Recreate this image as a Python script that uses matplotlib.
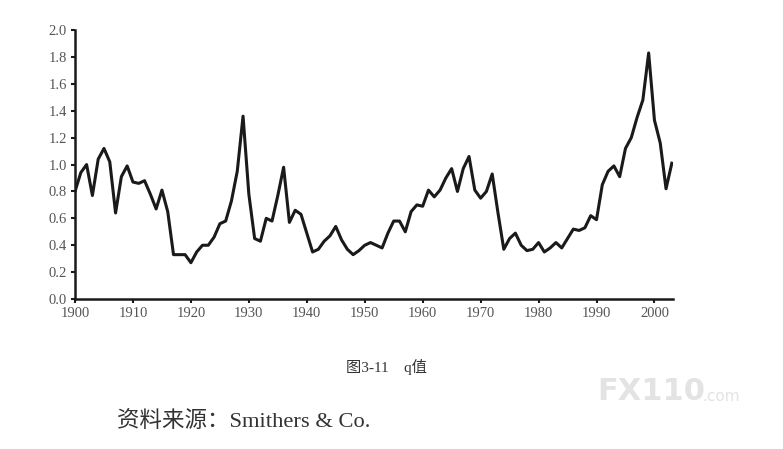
import numpy as np
import matplotlib.pyplot as plt

# q ratio
years = list(range(1900, 2004))
q_values = [
    0.80, 0.94, 1.00, 0.77, 1.04, 1.12, 1.02, 0.64, 0.91, 0.99,  # 1900s
    0.87, 0.86, 0.88, 0.78, 0.67, 0.81, 0.65, 0.33, 0.33, 0.33,  # 1910s
    0.27, 0.35, 0.40, 0.40, 0.46, 0.56, 0.58, 0.73, 0.95, 1.36,  # 1920s
    0.78, 0.45, 0.43, 0.60, 0.58, 0.77, 0.98, 0.57, 0.66, 0.63,  # 1930s
    0.49, 0.35, 0.37, 0.43, 0.47, 0.54, 0.44, 0.37, 0.33, 0.36,  # 1940s
    0.40, 0.42, 0.40, 0.38, 0.49, 0.58, 0.58, 0.50, 0.65, 0.70,  # 1950s
    0.69, 0.81, 0.76, 0.81, 0.90, 0.97, 0.80, 0.97, 1.06, 0.81,  # 1960s
    0.75, 0.80, 0.93, 0.64, 0.37, 0.45, 0.49, 0.40, 0.36, 0.37,  # 1970s
    0.42, 0.35, 0.38, 0.42, 0.38, 0.45, 0.52, 0.51, 0.53, 0.62,  # 1980s
    0.59, 0.85, 0.95, 0.99, 0.91, 1.12, 1.20, 1.35, 1.48, 1.83,  # 1990s
    1.33, 1.16, 0.82, 1.01,                                      # 2000s
]
x_ticks = list(range(1900, 2001, 10))
y_ticks = [0.0, 0.2, 0.4, 0.6, 0.8, 1.0, 1.2, 1.4, 1.6, 1.8, 2.0]

caption = "图3-11    q值"
source = "资料来源：Smithers & Co."

fonts = ['Liberation Serif', 'Noto Sans CJK SC']

fig = plt.figure(figsize=(7.83, 4.49), dpi=100)
ax = fig.add_axes([0.0958, 0.334, 0.7637, 0.599])

ax.plot(years, q_values, color='#1a1a1a', linewidth=2.2)

ax.set_xlim(1900, 2003.2)
ax.set_ylim(0, 2.0)
ax.set_xticks(x_ticks)
ax.set_yticks(y_ticks)
ax.set_yticklabels([f'{v:.1f}' for v in y_ticks])

for side in ['top', 'right']:
    ax.spines[side].set_visible(False)
for side in ['left', 'bottom']:
    ax.spines[side].set_linewidth(1.8)
    ax.spines[side].set_color('#1a1a1a')

ax.tick_params(direction='out', length=3, width=1.5, color='#1a1a1a',
               labelsize=10.5, labelcolor='#555555', pad=3)
for lbl in ax.get_xticklabels() + ax.get_yticklabels():
    lbl.set_family(fonts)

fig.text(0.494, 0.182, caption, ha='center', va='center',
         fontsize=11, color='#333333', family=fonts)
fig.text(0.150, 0.062, source, ha='left', va='center',
         fontsize=16.2, color='#333333', family=fonts)

# watermark in the lower right
fig.text(0.763, 0.128, 'FX110', ha='left', va='center', fontsize=22,
         fontweight='bold', color='#e3e3e3', family='DejaVu Sans')
fig.text(0.897, 0.118, '.com', ha='left', va='center', fontsize=11,
         color='#e3e3e3', family='DejaVu Sans')

fig.savefig('out.png', dpi=100)
